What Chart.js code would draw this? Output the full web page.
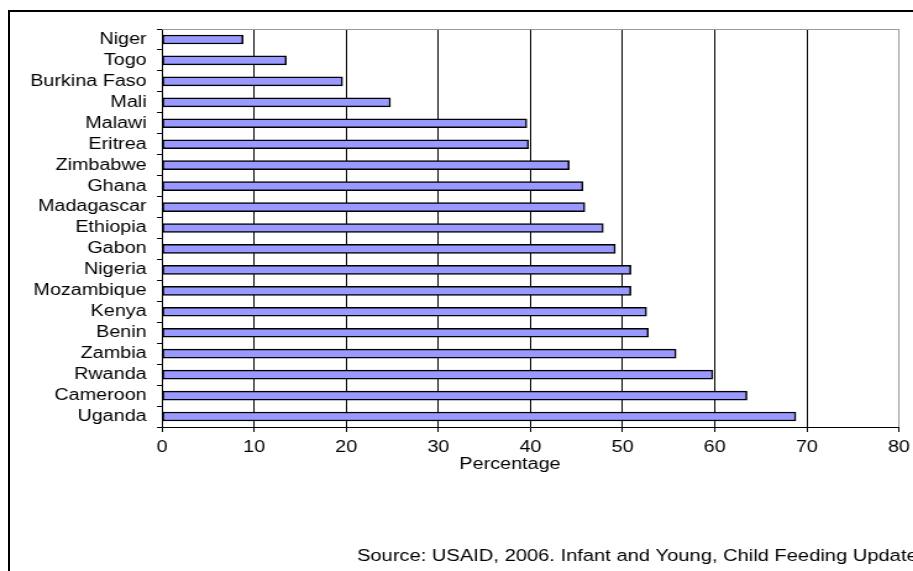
<!DOCTYPE html>
<html><head><meta charset="utf-8">
<script src="https://cdn.jsdelivr.net/npm/chart.js@4.4.0/dist/chart.umd.min.js"></script>
<style>
html,body{margin:0;padding:0;width:913px;height:571px;overflow:hidden;background:#fff;}
#wrap{position:absolute;left:0;top:0;width:739px;height:571px;transform:scaleX(1.2355);transform-origin:0 0;}
#frame{position:absolute;left:8px;top:10px;width:1000px;height:700px;border:2px solid #000;}
</style></head><body>
<div id="wrap"><canvas id="c" width="739" height="571"></canvas></div>
<div id="frame"></div>
<script>
const categories = ['Niger','Togo','Burkina Faso','Mali','Malawi','Eritrea','Zimbabwe','Ghana','Madagascar','Ethiopia','Gabon','Nigeria','Mozambique','Kenya','Benin','Zambia','Rwanda','Cameroon','Uganda'];
const values = [8.8,13.5,19.6,24.8,39.6,39.8,44.2,45.7,45.9,47.9,49.2,50.9,50.9,52.6,52.8,55.8,59.8,63.5,68.8];
const xTickValues = [0,10,20,30,40,50,60,70,80];
const xTitle = 'Percentage';
const sourceNote = 'Source: USAID, 2006. Infant and Young, Child Feeding Update';

const S = 1.2355;
const FONT = '"Liberation Sans", Arial, sans-serif';
Chart.defaults.font.family = FONT;
Chart.defaults.font.size = 16;
Chart.defaults.color = '#000';

const textPlugin = {
  id: 'texts',
  afterDraw(chart) {
    const ctx = chart.ctx;
    const a = chart.chartArea;
    ctx.save();
    ctx.strokeStyle = '#999';
    ctx.lineWidth = 1;
    ctx.beginPath();
    ctx.moveTo(a.left, Math.round(a.top) + 0.5);
    ctx.lineTo(a.right, Math.round(a.top) + 0.5);
    ctx.stroke();
    ctx.fillStyle = '#000';
    ctx.font = '16px ' + FONT;
    ctx.textBaseline = 'middle';
    ctx.textAlign = 'center';
    ctx.fillText(xTitle, 510 / S, 465);
    ctx.font = '16.3px ' + FONT;
    ctx.textAlign = 'left';
    ctx.fillText(sourceNote, 357 / S, 557);
    ctx.restore();
  }
};

new Chart(document.getElementById('c'), {
  type: 'bar',
  data: {
    labels: categories,
    datasets: [{
      data: values,
      backgroundColor: '#9999FF',
      borderColor: '#000',
      borderWidth: 1.5,
      borderSkipped: false,
      barThickness: 9
    }]
  },
  options: {
    indexAxis: 'y',
    responsive: false,
    animation: false,
    devicePixelRatio: 1,
    layout: { padding: { left: 0, top: 29, right: 11.4, bottom: 0 } },
    plugins: { legend: { display: false }, tooltip: { enabled: false } },
    scales: {
      x: {
        type: 'linear', min: 0, max: 80,
        afterBuildTicks(scale) { scale.ticks = xTickValues.map(v => ({ value: v })); },
        afterFit(scale) { scale.height = 144; scale.paddingRight = 0; scale.paddingLeft = 0; },
        ticks: { padding: 6, font: { size: 16 }, color: '#000' },
        grid: {
          color: (c) => (c.tick && c.tick.value === 80) ? '#999' : '#000',
          lineWidth: 1, tickLength: 5, tickColor: '#000'
        },
        border: { color: '#000', width: 1 }
      },
      y: {
        afterFit(scale) { scale.width = 131.1; },
        ticks: { padding: 8.35, autoSkip: false, font: { size: 16 }, color: '#000' },
        grid: { drawOnChartArea: false, offset: true, tickLength: 4.05, tickColor: '#000', color: '#000' },
        border: { color: '#000', width: 1 }
      }
    }
  },
  plugins: [textPlugin]
});
</script>
</body></html>
